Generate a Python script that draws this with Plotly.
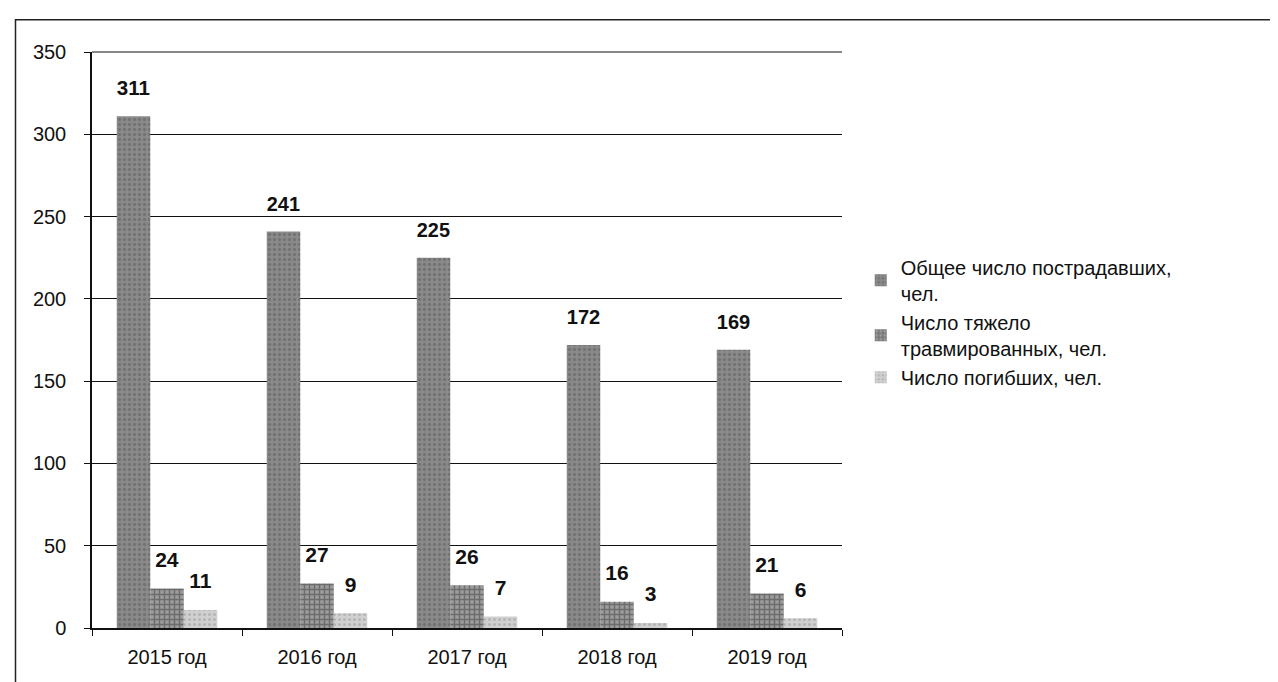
import plotly.graph_objects as go

categories = ["2015 год", "2016 год", "2017 год", "2018 год", "2019 год"]
total_victims = [311, 241, 225, 172, 169]
severe_injured = [24, 27, 26, 16, 21]
killed = [11, 9, 7, 3, 6]
series_names = ["Общее число пострадавших,<br>чел.", "Число тяжело<br>травмированных, чел.", "Число погибших, чел."]

FONT = "Liberation Sans, Arial, sans-serif"

fig = go.Figure()
specs = [
    (total_victims, series_names[0], "#8a8a8a", "#5c5c5c", ".", 0.35),
    (severe_injured, series_names[1], "#9c9c9c", "#3c3c3c", "+", 0.5),
    (killed, series_names[2], "#d0d0d0", "#9a9a9a", ".", 0.3),
]
for vals, name, bg, fg, shape, sol in specs:
    fig.add_trace(go.Bar(
        x=categories, y=vals, name=name,
        marker=dict(color=bg, line=dict(width=0),
                    pattern=dict(shape=shape, fgcolor=fg, bgcolor=bg, size=5, solidity=sol)),
        text=[str(v) for v in vals], textposition="outside",
        texttemplate="<span style='font-size:21px'><b>%{text}</b></span><br> ",
        textfont=dict(family=FONT, size=12, color="#111111"),
        cliponaxis=False,
    ))

fig.update_layout(
    width=1278, height=682,
    paper_bgcolor="white", plot_bgcolor="white",
    margin=dict(l=84, r=444, t=44, b=62),
    barmode="group", bargap=0.33, bargroupgap=0.0,
    font=dict(family=FONT, size=20, color="#111111"),
    showlegend=True,
    legend=dict(x=1.025, y=0.66, xanchor="left", yanchor="top",
                font=dict(family=FONT, size=20, color="#111111"),
                tracegroupgap=6, itemwidth=30, bgcolor="rgba(0,0,0,0)"),
    xaxis=dict(showline=True, linecolor="#111111", linewidth=1.5,
               ticks="outside", tickson="boundaries", ticklen=6, tickcolor="#111111",
               ticklabelstandoff=10,
               tickfont=dict(family=FONT, size=20, color="#111111"), showgrid=False),
    yaxis=dict(range=[0, 350], dtick=50, showline=True, linecolor="#111111", linewidth=1.5,
               ticks="outside", ticklen=6, tickcolor="#111111", ticklabelstandoff=14,
               showgrid=True, gridcolor="#111111", gridwidth=1.2,
               tickfont=dict(family=FONT, size=20, color="#111111"), zeroline=False),
)
fig.add_shape(type="line", xref="paper", yref="paper", x0=0, x1=1, y0=1, y1=1,
              line=dict(color="#111111", width=1.2))
fig.add_shape(type="rect", xref="paper", yref="paper",
              x0=-0.102, x1=1.6, y0=-0.2, y1=1.056,
              line=dict(color="#222222", width=1.5), fillcolor="rgba(0,0,0,0)", layer="below")

fig.write_html("out.html")
